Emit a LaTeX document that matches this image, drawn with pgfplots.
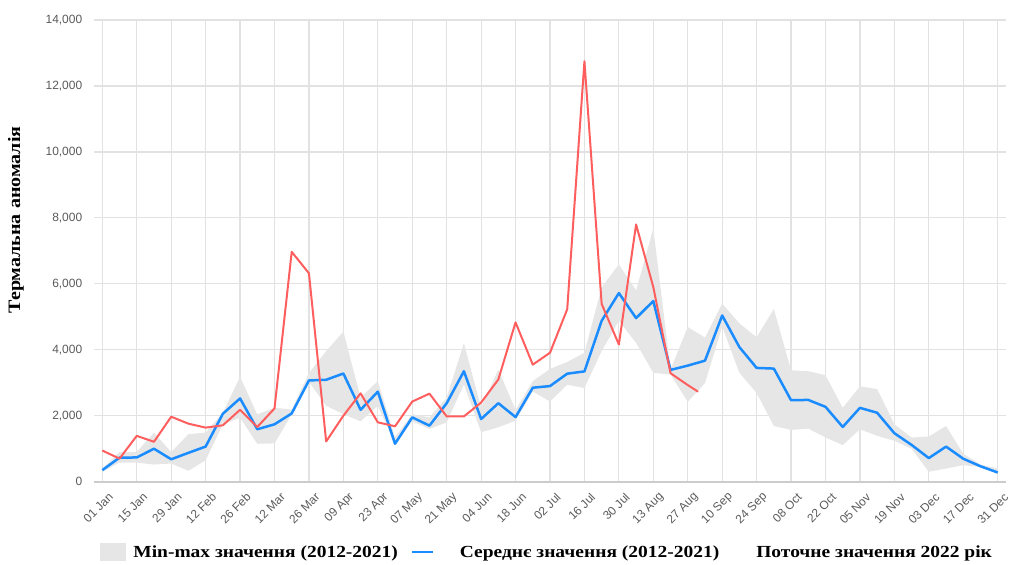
\documentclass[border=0pt]{standalone}
\usepackage{pgfplots}
\pgfplotsset{compat=1.18}
\usepgfplotslibrary{fillbetween}
\usepackage{pgfplotstable}
\usepackage{fontspec}
\setmainfont{Liberation Sans}
\newfontfamily\serifb[FakeStretch=1.15]{Liberation Serif}
\definecolor{meanblue}{HTML}{1A8CFF}
\definecolor{curred}{HTML}{FF5E5E}
\definecolor{bandc}{HTML}{E6E6E6}
\definecolor{gridc}{HTML}{E2E2E2}
\definecolor{basec}{HTML}{CCCCCC}
\definecolor{tickc}{HTML}{5A5A5A}

\pgfplotstableread{
x  min   max   mean
0  300   400   350
1  580   900   730
2  580   900   735
3  520   1490  1000
4  550   900   680
5  330   1440  875
6  650   1490  1065
7  1740  2090  2060
8  1940  3180  2525
9  1150  2040  1590
10 1160  2240  1740
11 2040  2190  2070
12 3030  3290  3070
13 2300  3960  3090
14 2050  4550  3280
15 1830  2550  2180
16 2300  3050  2730
17 1150  1350  1150
18 1830  2050  1950
19 1600  1950  1700
20 1800  2550  2380
21 2950  4200  3350
22 1500  2250  1900
23 1650  3400  2380
24 1850  2180  1960
25 2735  3050  2850
26 2430  3420  2900
27 2940  3630  3275
28 2840  3910  3345
29 3960  5900  4880
30 4880  6590  5720
31 4210  5800  4960
32 3300  7680  5480
33 3250  3400  3390
34 2420  4690  3520
35 2990  4370  3670
36 4700  5400  5040
37 3300  4800  4080
38 2690  4380  3450
39 1690  5240  3430
40 1570  3380  2470
41 1610  3350  2480
42 1340  3230  2270
43 1110  2240  1660
44 1590  2890  2240
45 1390  2810  2090
46 1240  1740  1470
47 1000  1340  1115
48 300   1370  716
49 400   1690  1065
50 500   850   697
51 450   520   468
52 250   400   279
}\hist

\pgfplotstableread{
x    val
0    945
1    700
2    1390
3    1210
4    1970
5    1760
6    1640
7    1710
8    2180
9    1660
10   2220
11   6970
12   6320
13   1220
14   2000
15   2680
16   1800
17   1680
18   2430
19   2670
20   1980
21   1980
22   2400
23   3100
24   4830
25   3550
26   3910
27   5230
28   12750
29   5390
30   4160
31   7800
32   5900
33   3290
34   2930
34.6 2730
}\cur

\begin{document}
\begin{tikzpicture}
\begin{axis}[
  at={(0,0)}, anchor=south west,
  scale only axis, width=912.6bp, height=461.7bp,
  xmin=-0.5, xmax=52.5, ymin=0, ymax=14000,
  xtick={0,2,...,52},
  xticklabels={01 Jan,15 Jan,29 Jan,12 Feb,26 Feb,12 Mar,26 Mar,09 Apr,23 Apr,07 May,21 May,04 Jun,18 Jun,02 Jul,16 Jul,30 Jul,13 Aug,27 Aug,10 Sep,24 Sep,08 Oct,22 Oct,05 Nov,19 Nov,03 Dec,17 Dec,31 Dec},
  ytick={0,2000,...,14000},
  scaled y ticks=false,
  extra y ticks={0}, extra y tick labels={},
  extra y tick style={major grid style={basec, line width=1.6bp}},
  grid=major, major grid style={gridc, line width=1.2bp},
  axis line style={draw=none},
  major tick length=0pt,
  /pgf/number format/assume math mode=true,
  yticklabel style={/pgf/number format/1000 sep={,}, font=\fontsize{12}{14}\selectfont, text=tickc, anchor=east, xshift=-8bp},
  xticklabel style={font=\fontsize{12}{14}\selectfont, text=tickc, xshift=11bp, yshift=-11bp, rotate=45, anchor=east},
  every axis y label/.style={at={(axis description cs:-0.0851,0.567)}, rotate=90, anchor=center},
  ylabel={\serifb\bfseries\fontsize{17.5}{20}\selectfont Термальна аномалія},
  legend columns=3,
  legend style={at={(axis description cs:0.0069,-0.1523)}, anchor=west, draw=none, fill=none,
    inner sep=0pt, column sep=0pt, nodes={inner sep=0pt},
    font=\serifb\bfseries\fontsize{17}{20}\selectfont},
]
\addplot[name path=upper, draw=none, forget plot] table[x=x, y=max] {\hist};
\addplot[name path=lower, draw=none, forget plot] table[x=x, y=min] {\hist};
\addplot[bandc, forget plot] fill between[of=upper and lower];

\addlegendimage{legend image code/.code={\fill[bandc] (0bp,-8.5bp) rectangle (25bp,8.5bp); \path[draw=none] (33bp,0bp) -- (33bp,1bp);}}
\addlegendentry{Min-max значення (2012-2021)}

\addplot[meanblue, line width=2.5bp, line join=round,
  legend image code/.code={\path[draw=none] (0bp,0bp) -- (62bp,0bp); \draw[meanblue, line width=2.5bp] (14bp,0bp) -- (35bp,0bp);}]
  table[x=x, y=mean] {\hist};
\addlegendentry{Середнє значення (2012-2021)}

\addplot[curred, line width=2bp, line join=round, forget plot] table[x=x, y=val] {\cur};

\addlegendimage{draw=none, legend image code/.code={\path[draw=none] (0bp,0bp) -- (37bp,0bp);}}
\addlegendentry{Поточне значення 2022 рік}
\end{axis}
\pgfresetboundingbox
\path (-93.7bp,-83.3bp) rectangle (917.3bp,481.7bp);
\end{tikzpicture}
\end{document}
